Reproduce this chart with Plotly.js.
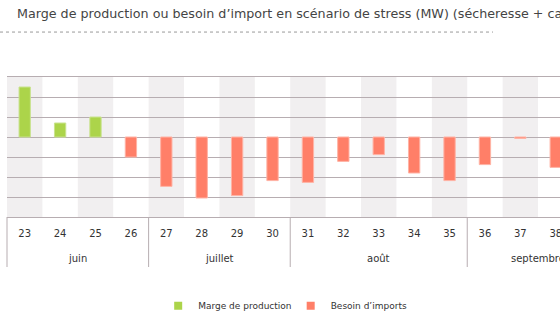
<!DOCTYPE html>
<html>
<head>
<meta charset="utf-8">
<script src="https://cdn.plot.ly/plotly-3.0.1.min.js"></script>
<style>html,body{margin:0;padding:0;background:#fff;}#chart{width:560px;height:331px;}</style>
</head>
<body>
<div id="chart"></div>
<script>
// ---- data ----
var months = ["juin","juin","juin","juin","juillet","juillet","juillet","juillet","août","août","août","août","août","septembre","septembre","septembre","septembre"];
var weeks = ["23","24","25","26","27","28","29","30","31","32","33","34","35","36","37","38","39"];
var values = [2500, 700, 1000, -1000, -2470, -3050, -2930, -2180, -2270, -1220, -880, -1800, -2180, -1380, -70, -1520, null];
var seriesNames = ["Marge de production", "Besoin d\u2019imports"];
var titleText = "Marge de production ou besoin d\u2019import en scénario de stress (MW) (sécheresse + canicule)";

var GREEN = "#acd44a", RED = "#ff7f68";
var GRID = "#b7adb1", BAND = "#f1eff0";
var FONT = "DejaVu Sans";
var yRange = [-4000, 3000];
var xRange = [-0.5, 15.12];
var PLOT_H = 140; // px height of plot area

var marge = values.map(function(v){ return (v !== null && v >= 0) ? v : null; });
var besoin = values.map(function(v){ return (v !== null && v < 0) ? v : null; });

var traces = [
  {type:"bar", x:weeks, y:marge, name:seriesNames[0], width:0.32,
   marker:{color:GREEN, line:{color:"#c9e38f", width:1}}, showlegend:false, hoverinfo:"y"},
  {type:"bar", x:weeks, y:besoin, name:seriesNames[1], width:0.32,
   marker:{color:RED, line:{color:"#ffb3a5", width:1}}, showlegend:false, hoverinfo:"y"},
  {type:"scatter", mode:"markers", x:[null], y:[null], xaxis:"x2", yaxis:"y2", name:seriesNames[0],
   marker:{symbol:"square", size:8, color:GREEN}},
  {type:"scatter", mode:"markers", x:[null], y:[null], xaxis:"x2", yaxis:"y2", name:seriesNames[1],
   marker:{symbol:"square", size:8, color:RED}}
];

var span = xRange[1] - xRange[0];
function px(idx){ return (idx - xRange[0]) / span; }

var shapes = [];
var annotations = [];
// alternating background bands
for (var i = 0; i < weeks.length; i += 2) {
  shapes.push({type:"rect", layer:"below", xref:"paper", yref:"paper",
    x0:px(i - 0.5), x1:px(i + 0.5), y0:0, y1:1, fillcolor:BAND, line:{width:0}});
}
// month groups: dividers + labels
var start = 0;
for (var j = 1; j <= months.length; j++) {
  if (j === months.length || months[j] !== months[start]) {
    shapes.push({type:"line", xref:"paper", yref:"paper", x0:px(start - 0.5), x1:px(start - 0.5),
      y0:0, y1:-50/PLOT_H, line:{color:GRID, width:1}});
    annotations.push({text:months[start], xref:"paper", yref:"paper", x:px((start + j - 1) / 2), y:-41/PLOT_H,
      xanchor:"center", yanchor:"middle", showarrow:false, font:{family:FONT, size:10, color:"#333"}});
    start = j;
  }
}
shapes.push({type:"line", xref:"paper", yref:"paper", x0:px(months.length - 0.5), x1:px(months.length - 0.5),
  y0:0, y1:-50/PLOT_H, line:{color:GRID, width:1}});
// dotted rule under title
shapes.push({type:"line", xref:"paper", yref:"paper", x0:-7/553, x1:486/553, y0:1.321, y1:1.321,
  line:{color:"#9a9a9a", width:1, dash:"dot"}});

var layout = {
  width:560, height:331,
  margin:{l:7, r:0, t:77, b:114, pad:0},
  paper_bgcolor:"#fff", plot_bgcolor:"rgba(0,0,0,0)",
  font:{family:FONT, size:10, color:"#333"},
  barmode:"overlay",
  title:{text:titleText, x:17/560, xanchor:"left", xref:"container", y:1-14/331, yref:"container", yanchor:"middle",
    font:{family:FONT, size:12.7, color:"#444"}},
  xaxis:{type:"category", range:xRange, showgrid:false, showline:true, mirror:true,
    linecolor:GRID, linewidth:1, ticks:"", ticklabelstandoff:7, tickfont:{family:FONT, size:10, color:"#333"},
    fixedrange:true},
  yaxis:{range:yRange, dtick:1000, tick0:0, showticklabels:false, showgrid:true, gridcolor:GRID, gridwidth:1,
    zeroline:true, zerolinecolor:GRID, zerolinewidth:1, showline:false, ticks:"", fixedrange:true},
  xaxis2:{visible:false, domain:[0,1], anchor:"y2"},
  yaxis2:{visible:false, anchor:"x2"},
  showlegend:true,
  legend:{orientation:"h", x:0.513, xanchor:"center", y:-0.634, yanchor:"middle",
    entrywidth:87.5, entrywidthmode:"pixels",
    font:{family:FONT, size:9, color:"#333"}, bgcolor:"rgba(0,0,0,0)", itemclick:false},
  shapes:shapes,
  annotations:annotations
};

Plotly.newPlot("chart", traces, layout, {displayModeBar:false, staticPlot:true});
</script>
</body>
</html>
